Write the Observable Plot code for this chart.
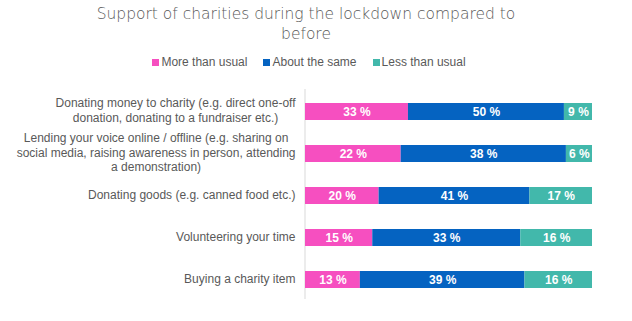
<!DOCTYPE html>
<html>
<head>
<meta charset="utf-8">
<script src="https://cdn.jsdelivr.net/npm/d3@7"></script>
<script src="https://cdn.jsdelivr.net/npm/@observablehq/plot@0.6"></script>
<style>
  html, body { margin: 0; padding: 0; background: #fff; }
  #wrap { width: 632px; height: 321px; position: relative; overflow: hidden; }
  .title { position: absolute; left: 0; width: 612px; text-align: center;
    font-family: "DejaVu Sans ExtraLight", "DejaVu Sans", sans-serif; font-weight: 200; font-size: 15.5px; line-height: 20px; color: #595959; white-space: nowrap; }
  #t1 { top: 4px; }
  #t2 { top: 24px; }
  #legend { position: absolute; left: 0; width: 618px; top: 55px; text-align: center;
    font-family: "Liberation Sans", Arial, sans-serif; font-size: 12px; color: #595959; }
  #legend span.item { display: inline-block; margin: 0 8px; }
  #legend span.sw { display: inline-block; width: 7px; height: 7px; margin-right: 2px; vertical-align: 0px; }
  #chart { position: absolute; left: 0; top: 80px; }
</style>
</head>
<body>
<div id="wrap">
  <div class="title" id="t1">Support of charities during the lockdown compared to</div>
  <div class="title" id="t2">before</div>
  <div id="legend"></div>
  <div id="chart"></div>
</div>
<script>
const categories = [
  "Donating money to charity (e.g. direct one-off\ndonation, donating to a fundraiser etc.)",
  "Lending your voice online / offline (e.g. sharing on\nsocial media, raising awareness in person, attending\na demonstration)",
  "Donating goods (e.g. canned food etc.)",
  "Volunteering your time",
  "Buying a charity item"
];
const seriesNames = ["More than usual", "About the same", "Less than usual"];
const seriesColors = ["#f64fc0", "#0563c1", "#42b8ab"];
const moreThanUsual = [33, 22, 20, 15, 13];
const aboutTheSame = [50, 38, 41, 33, 39];
const lessThanUsual = [9, 6, 17, 16, 16];

const seriesValues = [moreThanUsual, aboutTheSame, lessThanUsual];
const data = [];
seriesNames.forEach((s, si) => {
  categories.forEach((c, ci) => {
    data.push({category: c, series: s, value: seriesValues[si][ci]});
  });
});

// legend
const legend = document.getElementById("legend");
seriesNames.forEach((s, i) => {
  const item = document.createElement("span");
  item.className = "item";
  const sw = document.createElement("span");
  sw.className = "sw";
  sw.style.background = seriesColors[i];
  item.appendChild(sw);
  item.appendChild(document.createTextNode(s));
  legend.appendChild(item);
});

const chart = Plot.plot({
  width: 632,
  height: 231,
  marginLeft: 305,
  marginRight: 40,
  marginTop: 10,
  marginBottom: 11,
  style: {fontFamily: "'Liberation Sans', Arial, sans-serif", fontSize: "12px", color: "#595959", background: "transparent"},
  x: {domain: [0, 1], axis: null},
  y: {domain: categories, paddingInner: 0.6, paddingOuter: 0.3, label: null},
  color: {domain: seriesNames, range: seriesColors},
  marks: [
    Plot.ruleX([0], {stroke: "#d9d9d9", strokeWidth: 1, dx: -0.5, dy: -1}),
    Plot.barX(data, Plot.stackX({offset: "normalize", order: null},
      {x: "value", y: "category", fill: "series", inset: 0})),
    Plot.text(data, Plot.stackX({offset: "normalize", order: null},
      {x: "value", y: "category", z: "series", text: d => d.value + " %",
       fill: "white", fontWeight: "bold", fontSize: 12})),
    Plot.axisY({tickSize: 0, tickPadding: 10, label: null, lineHeight: 1.2, fill: "#595959", fontSize: 12, dy: -2})
  ]
});
document.getElementById("chart").appendChild(chart);

// center the lines of multi-line axis labels (block stays right-aligned)
chart.querySelectorAll("g[aria-label='y-axis tick label'] text").forEach(t => {
  const spans = t.querySelectorAll("tspan");
  if (spans.length > 1) {
    let maxW = 0;
    spans.forEach(s => { maxW = Math.max(maxW, s.getComputedTextLength()); });
    t.setAttribute("text-anchor", "middle");
    spans.forEach(s => s.setAttribute("x", -maxW / 2));
  }
});
</script>
</body>
</html>
